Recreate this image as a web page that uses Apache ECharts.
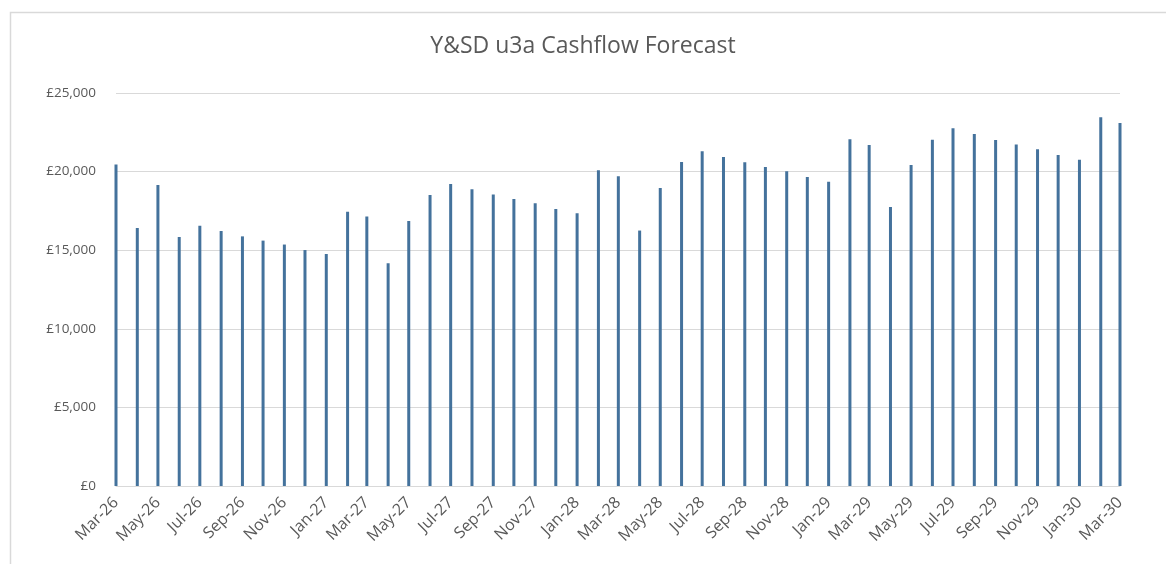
<!DOCTYPE html>
<html>
<head>
<meta charset="utf-8">
<script src="https://cdn.jsdelivr.net/npm/echarts@6/dist/echarts.min.js"></script>
<style>
html,body{margin:0;padding:0;background:#fff;}
#chart{width:1166px;height:564px;}
</style>
</head>
<body>
<div id="chart"></div>
<script>
// Month of each data point (first of month)
const months = [
  '2026-03','2026-04','2026-05','2026-06','2026-07','2026-08','2026-09','2026-10','2026-11','2026-12',
  '2027-01','2027-02','2027-03','2027-04','2027-05','2027-06','2027-07','2027-08','2027-09','2027-10','2027-11','2027-12',
  '2028-01','2028-02','2028-03','2028-04','2028-05','2028-06','2028-07','2028-08','2028-09','2028-10','2028-11','2028-12',
  '2029-01','2029-02','2029-03','2029-04','2029-05','2029-06','2029-07','2029-08','2029-09','2029-10','2029-11','2029-12',
  '2030-01','2030-02','2030-03'
];
// Cash balance (£)
const balance = [
  20450,16410,19150,15840,16560,16220,15880,15610,15360,15010,
  14760,17450,17140,14170,16860,18510,19210,18870,18540,18260,17980,17620,
  17350,20080,19700,16250,18960,20610,21290,20930,20590,20290,20020,19660,
  19360,22050,21690,17750,20420,22030,22750,22390,22010,21720,21420,21060,
  20760,23450,23090
];
// Date-axis labels (every two months)
const tickMonths = [
  '2026-03','2026-05','2026-07','2026-09','2026-11','2027-01','2027-03','2027-05','2027-07','2027-09','2027-11',
  '2028-01','2028-03','2028-05','2028-07','2028-09','2028-11','2029-01','2029-03','2029-05','2029-07','2029-09','2029-11',
  '2030-01','2030-03'
];
const monthNames = ['Jan','Feb','Mar','Apr','May','Jun','Jul','Aug','Sep','Oct','Nov','Dec'];
const yTicks = { min: 0, max: 25000, step: 5000 };

// day number (days since epoch, UTC) for a 'YYYY-MM' string
function toDay(s){ const p = s.split('-'); return Date.UTC(+p[0], +p[1]-1, 1) / 86400000; }

const chart = echarts.init(document.getElementById('chart'), null, {renderer:'canvas'});
const FONT = '"Open Sans", "Noto Sans", sans-serif';
chart.setOption({
  backgroundColor: '#ffffff',
  animation: false,
  graphic: [{
    type: 'rect', left: 8, top: 10, silent: true,
    shape: { x: 0, y: 0, width: 1200, height: 600 },
    style: { fill: 'none', stroke: '#d9d9d9', lineWidth: 1.5 }
  }],
  title: {
    text: 'Y&SD u3a Cashflow Forecast',
    left: 'center', top: 30,
    textStyle: { fontFamily: FONT, fontSize: 23, fontWeight: 'normal', color: '#595959' }
  },
  grid: { left: 116, right: 46, top: 93, bottom: 78 },
  xAxis: {
    type: 'value',
    min: toDay(months[0]),
    max: toDay(months[months.length-1]),
    axisLine: { show: true, lineStyle: { color: '#d9d9d9', width: 1 } },
    axisTick: { show: false },
    splitLine: { show: false },
    axisLabel: {
      customValues: tickMonths.map(toDay),
      rotate: 45,
      margin: 14,
      hideOverlap: false,
      showMinLabel: true,
      showMaxLabel: true,
      fontFamily: FONT, fontSize: 16, color: '#595959',
      formatter: function(v){
        const d = new Date(Math.round(v) * 86400000);
        return monthNames[d.getUTCMonth()] + '-' + String(d.getUTCFullYear()).slice(2);
      }
    }
  },
  yAxis: {
    type: 'value',
    min: yTicks.min, max: yTicks.max, interval: yTicks.step,
    axisLine: { show: false },
    axisTick: { show: false },
    splitLine: { lineStyle: { color: '#d9d9d9', width: 1 } },
    axisLabel: {
      margin: 20,
      fontFamily: FONT, fontSize: 13.5, color: '#595959',
      formatter: function(v){ return '£' + v.toLocaleString('en-GB'); }
    }
  },
  series: [{
    type: 'bar',
    barWidth: 3,
    clip: false,
    itemStyle: { color: '#44729c' },
    data: months.map((m, i) => [toDay(m), balance[i]])
  }]
});
</script>
</body>
</html>
